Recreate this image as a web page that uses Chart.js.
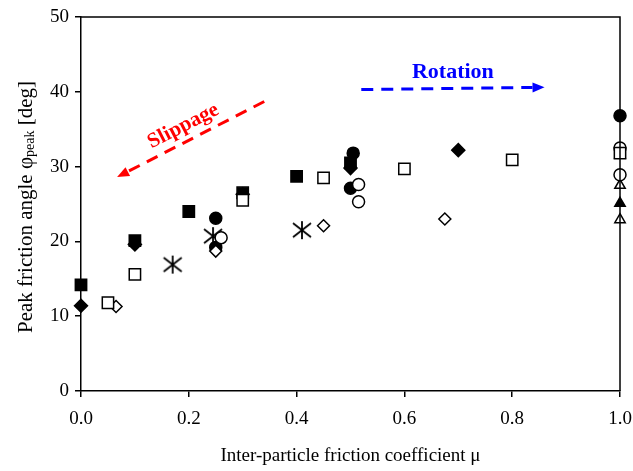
<!DOCTYPE html>
<html>
<head>
<meta charset="utf-8">
<script src="https://cdn.jsdelivr.net/npm/chart.js@4"></script>
<style>
  html, body { margin: 0; padding: 0; background: #fff; }
  #wrap { width: 633px; height: 471px; }
</style>
</head>
<body>
<div id="wrap"><canvas id="phiChart" width="633" height="471"></canvas></div>
<script>
/* ── Data: friction coefficient μ vs peak angle φ ── */
const filledSquareMu  = [0.0, 0.1, 0.2, 0.3, 0.4, 0.5];
const filledSquarePhi = [14.2, 20.1, 24.0, 26.5, 28.7, 30.5];

const openSquareMu  = [0.05, 0.1, 0.3, 0.45, 0.6, 0.8, 1.0];
const openSquarePhi = [11.8, 15.6, 25.5, 28.5, 29.7, 30.9, 31.8];

const filledDiamondMu  = [0.0, 0.1, 0.3, 0.5, 0.7];
const filledDiamondPhi = [11.4, 19.6, 26.3, 29.8, 32.2];

const openDiamondMu  = [0.065, 0.25, 0.45, 0.675];
const openDiamondPhi = [11.3, 18.7, 22.1, 23.0];

const asteriskMu  = [0.17, 0.245, 0.41];
const asteriskPhi = [16.9, 20.7, 21.5];

const filledCircleMu  = [0.25, 0.25, 0.505, 0.5, 1.0];
const filledCirclePhi = [23.1, 19.2, 31.8, 27.1, 36.8];

const openCircleMu  = [0.26, 0.515, 0.515, 1.0, 1.0];
const openCirclePhi = [20.5, 27.6, 25.3, 32.5, 28.9];

const filledTriangleMu  = [1.0, 1.0];
const filledTrianglePhi = [31.6, 25.1];

const openTriangleMu  = [1.0, 1.0];
const openTrianglePhi = [27.5, 22.9];

const xTicks = [0, 0.2, 0.4, 0.6, 0.8, 1.0];
const yTicks = [0, 10, 20, 30, 40, 50];

/* Annotation arrows, in data units (μ, φ) */
const slipArrow = { from: [0.34, 38.7], to: [0.067, 28.6] };
const rotArrow  = { from: [0.52, 40.3], to: [0.86, 40.6] };
const slipLabel = { text: 'Slippage', at: [0.19, 35.4] };
const rotLabel  = { text: 'Rotation', at: [0.69, 42.6] };

const SERIF = '"Liberation Serif", "DejaVu Serif", serif';

const pts = (xs, ys) => xs.map((x, i) => ({ x, y: ys[i] }));

/* six-spoke asterisk marker */
function makeAsterisk() {
  const c = document.createElement('canvas');
  c.width = 22; c.height = 22;
  const g = c.getContext('2d');
  g.strokeStyle = '#000';
  g.lineWidth = 1.8;
  g.beginPath();
  g.moveTo(11, 2);  g.lineTo(11, 20);
  g.moveTo(2, 4);   g.lineTo(20, 18);
  g.moveTo(20, 4);  g.lineTo(2, 18);
  g.stroke();
  return c;
}
const asterisk = makeAsterisk();

function series(label, xs, ys, style, filled, radius) {
  return {
    label,
    data: pts(xs, ys),
    pointStyle: style,
    pointRadius: radius,
    pointHoverRadius: radius,
    pointBorderWidth: 1.5,
    pointBorderColor: '#000',
    pointBackgroundColor: filled ? '#000' : '#fff',
    showLine: false,
    clip: false,
  };
}

/* frame + arrows + labels + y title with subscript */
const decor = {
  id: 'decor',
  afterDatasetsDraw(chart) {
    const { ctx, chartArea: a, scales: { x, y } } = chart;
    ctx.save();
    ctx.strokeStyle = '#000';
    ctx.lineWidth = 1.5;
    ctx.beginPath();
    ctx.moveTo(a.left, a.top);
    ctx.lineTo(a.right, a.top);
    ctx.lineTo(a.right, a.bottom);
    ctx.stroke();

    const arrow = (arr, color) => {
      const x0 = x.getPixelForValue(arr.from[0]), y0 = y.getPixelForValue(arr.from[1]);
      const x1 = x.getPixelForValue(arr.to[0]),   y1 = y.getPixelForValue(arr.to[1]);
      const ang = Math.atan2(y1 - y0, x1 - x0);
      const head = 12;
      const bx = x1 - head * Math.cos(ang), by = y1 - head * Math.sin(ang);
      ctx.strokeStyle = color;
      ctx.fillStyle = color;
      ctx.lineWidth = 3;
      ctx.setLineDash([12, 8]);
      ctx.beginPath();
      ctx.moveTo(x0, y0);
      ctx.lineTo(bx, by);
      ctx.stroke();
      ctx.setLineDash([]);
      ctx.beginPath();
      ctx.moveTo(x1, y1);
      ctx.lineTo(bx + 5 * Math.sin(ang), by - 5 * Math.cos(ang));
      ctx.lineTo(bx - 5 * Math.sin(ang), by + 5 * Math.cos(ang));
      ctx.closePath();
      ctx.fill();
      return ang;
    };
    const slipAng = arrow(slipArrow, '#ff0000');
    arrow(rotArrow, '#0000ff');

    ctx.textAlign = 'center';
    ctx.textBaseline = 'middle';
    ctx.font = 'bold 21px ' + SERIF;
    ctx.fillStyle = '#ff0000';
    ctx.save();
    ctx.translate(x.getPixelForValue(slipLabel.at[0]), y.getPixelForValue(slipLabel.at[1]));
    ctx.rotate(slipAng - Math.PI);
    ctx.fillText(slipLabel.text, 0, 0);
    ctx.restore();
    ctx.font = 'bold 22px ' + SERIF;
    ctx.fillStyle = '#0000ff';
    ctx.fillText(rotLabel.text, x.getPixelForValue(rotLabel.at[0]), y.getPixelForValue(rotLabel.at[1]));

    /* y axis title: "Peak friction angle φpeak [deg]" */
    const parts = [
      { t: 'Peak friction angle ', f: '21px ' + SERIF, dy: 0 },
      { t: 'φ', f: '21px ' + SERIF, dy: 0 },
      { t: 'peak', f: '14px ' + SERIF, dy: 4 },
      { t: ' [deg]', f: '21px ' + SERIF, dy: 0 },
    ];
    let total = 0;
    parts.forEach(p => { ctx.font = p.f; p.w = ctx.measureText(p.t).width; total += p.w; });
    ctx.save();
    ctx.translate(26, 207);
    ctx.rotate(-Math.PI / 2);
    ctx.fillStyle = '#000';
    ctx.textAlign = 'left';
    ctx.textBaseline = 'middle';
    let cx = -total / 2;
    parts.forEach(p => { ctx.font = p.f; ctx.fillText(p.t, cx, p.dy); cx += p.w; });
    ctx.restore();
    ctx.restore();
  },
};

const tickFont = { family: SERIF, size: 19 };

new Chart(document.getElementById('phiChart'), {
  type: 'scatter',
  data: {
    datasets: [
      series('open square', openSquareMu, openSquarePhi, 'rect', false, 8),
      series('open diamond', openDiamondMu, openDiamondPhi, 'rectRot', false, 6),
      series('open circle', openCircleMu, openCirclePhi, 'circle', false, 6),
      series('open triangle', openTriangleMu, openTrianglePhi, 'triangle', false, 6),
      series('filled square', filledSquareMu, filledSquarePhi, 'rect', true, 8),
      series('filled diamond', filledDiamondMu, filledDiamondPhi, 'rectRot', true, 6.5),
      series('filled circle', filledCircleMu, filledCirclePhi, 'circle', true, 6),
      series('filled triangle', filledTriangleMu, filledTrianglePhi, 'triangle', true, 6),
      series('asterisk', asteriskMu, asteriskPhi, asterisk, false, 8),
    ],
  },
  options: {
    responsive: false,
    animation: false,
    events: [],
    layout: { padding: { left: 0, right: 13, top: 17, bottom: 0 } },
    plugins: { legend: { display: false }, tooltip: { enabled: false } },
    scales: {
      x: {
        type: 'linear',
        min: 0, max: 1,
        afterBuildTicks: s => { s.ticks = xTicks.map(v => ({ value: v })); },
        afterFit: s => { s.height = 80; s.paddingLeft = 0; s.paddingRight = 0; },
        ticks: { color: '#000', font: tickFont, padding: 11, callback: v => v.toFixed(1) },
        grid: { drawOnChartArea: false, drawTicks: true, tickLength: 6, color: '#000', lineWidth: 1.5 },
        border: { color: '#000', width: 1.5 },
        title: {
          display: true,
          text: 'Inter-particle friction coefficient μ',
          color: '#000',
          font: { family: SERIF, size: 19 },
          padding: { top: 13 },
        },
      },
      y: {
        min: 0, max: 50,
        afterBuildTicks: s => { s.ticks = yTicks.map(v => ({ value: v })); },
        afterFit: s => { s.width = 81; s.paddingTop = 0; s.paddingBottom = 0; },
        ticks: { color: '#000', font: tickFont, padding: 6 },
        grid: { drawOnChartArea: false, drawTicks: true, tickLength: 6, color: '#000', lineWidth: 1.5 },
        border: { color: '#000', width: 1.5 },
      },
    },
  },
  plugins: [decor],
});
</script>
</body>
</html>
